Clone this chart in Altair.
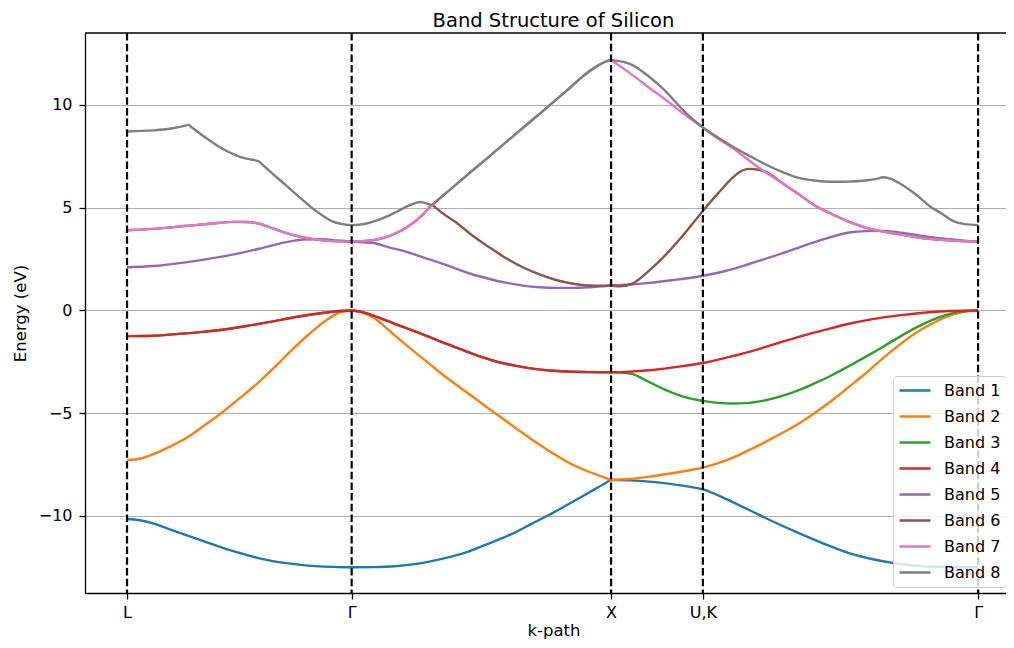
import altair as alt
import pandas as pd

# ---- high-symmetry points ----
KPTS = [0.0, 0.866, 1.866, 2.220, 3.281]
KLABELS = ["L", "Γ", "X", "U,K", "Γ"]
TITLE = "Band Structure of Silicon"

BANDS = ["Band 1", "Band 2", "Band 3", "Band 4", "Band 5", "Band 6", "Band 7", "Band 8"]
COLORS = ["#1f77b4", "#ff7f0e", "#2ca02c", "#d62728", "#9467bd", "#8c564b", "#e377c2", "#7f7f7f"]

# ---- band energies (eV) ----
K1 = [0, 0.05, 0.1, 0.17, 0.281, 0.4, 0.538, 0.67, 0.795, 0.866, 0.95, 1.032, 1.1, 1.165, 1.23, 1.298,
      1.36, 1.43, 1.5, 1.563, 1.63, 1.696, 1.78, 1.85, 1.866, 1.88, 1.94, 2.013, 2.1, 2.16, 2.22, 2.31, 2.398,
      2.49, 2.59, 2.69, 2.783, 2.88, 2.975, 3.07, 3.167, 3.281]
E1 = [-10.15, -10.21, -10.36, -10.68, -11.17, -11.68, -12.14, -12.38, -12.48, -12.50, -12.49, -12.45, -12.36,
      -12.22, -12.04, -11.81, -11.52, -11.17, -10.78, -10.36, -9.93, -9.47, -8.87, -8.36, -8.25, -8.25, -8.27,
      -8.33, -8.45, -8.56, -8.71, -9.18, -9.71, -10.27, -10.84, -11.37, -11.81, -12.12, -12.33, -12.45, -12.49,
      -12.50]

K2 = [0, 0.03, 0.06, 0.104, 0.17, 0.236, 0.3, 0.369, 0.435, 0.502, 0.57, 0.634, 0.7, 0.767, 0.82, 0.866, 0.9,
      0.93, 0.966, 1.0, 1.032, 1.1, 1.165, 1.23, 1.298, 1.36, 1.43, 1.5, 1.563, 1.63, 1.696, 1.78, 1.85, 1.866,
      1.88, 1.94, 2.013, 2.1, 2.16, 2.22, 2.31, 2.398, 2.49, 2.59, 2.65, 2.719, 2.78, 2.847, 2.91, 2.975, 3.04,
      3.103, 3.155, 3.205, 3.25, 3.281]
E2 = [-7.28, -7.255, -7.18, -6.98, -6.60, -6.15, -5.58, -4.94, -4.26, -3.56, -2.75, -1.94, -1.17, -0.49, -0.10,
      0.0, -0.08, -0.22, -0.49, -0.86, -1.21, -1.93, -2.59, -3.25, -3.88, -4.46, -5.10, -5.74, -6.31, -6.86,
      -7.36, -7.85, -8.17, -8.25, -8.24, -8.20, -8.09, -7.92, -7.80, -7.65, -7.30, -6.80, -6.20, -5.50, -5.00,
      -4.37, -3.75, -3.07, -2.37, -1.70, -1.10, -0.65, -0.33, -0.13, -0.03, 0.0]

K3 = [0, 0.1, 0.2, 0.3, 0.369, 0.45, 0.568, 0.65, 0.767, 0.82, 0.866, 0.9, 0.95, 1.032, 1.1, 1.165, 1.23,
      1.298, 1.36, 1.43, 1.5, 1.563, 1.63, 1.696, 1.78, 1.866, 1.9, 1.949, 2.0, 2.078, 2.15, 2.22, 2.28, 2.334,
      2.4, 2.462, 2.53, 2.59, 2.65, 2.719, 2.78, 2.847, 2.91, 2.975, 3.04, 3.103, 3.155, 3.205, 3.25, 3.281]
E3 = [-1.25, -1.23, -1.14, -1.03, -0.94, -0.78, -0.52, -0.32, -0.10, -0.03, 0.0, -0.06, -0.25, -0.65, -0.97,
      -1.29, -1.62, -1.94, -2.24, -2.51, -2.70, -2.83, -2.92, -2.97, -3.00, -3.01, -3.02, -3.10, -3.40, -3.88,
      -4.22, -4.40, -4.50, -4.53, -4.50, -4.37, -4.15, -3.88, -3.55, -3.14, -2.73, -2.26, -1.80, -1.31, -0.85,
      -0.47, -0.23, -0.08, -0.02, 0.0]

K4 = [0, 0.1, 0.2, 0.3, 0.369, 0.45, 0.568, 0.65, 0.767, 0.82, 0.866, 0.9, 0.95, 1.032, 1.1, 1.165, 1.23,
      1.298, 1.36, 1.43, 1.5, 1.563, 1.63, 1.696, 1.78, 1.866, 1.94, 2.013, 2.1, 2.22, 2.31, 2.398, 2.49, 2.59,
      2.69, 2.783, 2.88, 2.975, 3.07, 3.167, 3.281]
E4 = [-1.25, -1.23, -1.14, -1.03, -0.94, -0.78, -0.52, -0.32, -0.10, -0.03, 0.0, -0.06, -0.25, -0.65, -0.97,
      -1.29, -1.62, -1.94, -2.24, -2.51, -2.70, -2.83, -2.92, -2.97, -3.00, -3.01, -2.98, -2.91, -2.78, -2.56,
      -2.30, -2.02, -1.66, -1.29, -0.95, -0.65, -0.41, -0.24, -0.11, -0.03, 0.0]

K5 = [0, 0.1, 0.225, 0.32, 0.417, 0.51, 0.609, 0.68, 0.75, 0.81, 0.866, 0.949, 1.013, 1.078, 1.142, 1.21,
      1.27, 1.33, 1.398, 1.46, 1.526, 1.59, 1.654, 1.72, 1.783, 1.83, 1.866, 1.94, 2.013, 2.1, 2.22, 2.31, 2.398,
      2.49, 2.59, 2.69, 2.783, 2.85, 2.911, 2.975, 3.039, 3.1, 3.167, 3.23, 3.281]
E5 = [2.10, 2.16, 2.34, 2.52, 2.74, 3.00, 3.31, 3.45, 3.47, 3.40, 3.35, 3.28, 3.06, 2.85, 2.58, 2.30, 2.02,
      1.76, 1.53, 1.35, 1.21, 1.13, 1.10, 1.10, 1.13, 1.17, 1.21, 1.26, 1.34, 1.47, 1.69, 1.93, 2.26, 2.63, 3.06,
      3.48, 3.79, 3.86, 3.87, 3.80, 3.68, 3.57, 3.47, 3.39, 3.35]

K6 = [0, 0.1, 0.225, 0.32, 0.417, 0.46, 0.507, 0.56, 0.609, 0.67, 0.738, 0.8, 0.866, 0.949, 1.013, 1.078,
      1.142, 1.16, 1.175, 1.19, 1.22, 1.27, 1.33, 1.398, 1.46, 1.526, 1.59, 1.654, 1.72, 1.783, 1.83, 1.866,
      1.898, 1.95, 2.013, 2.08, 2.142, 2.22, 2.28, 2.334, 2.36, 2.398, 2.43, 2.47, 2.52, 2.59, 2.65, 2.719, 2.78,
      2.847, 2.91, 2.975, 3.04, 3.103, 3.2, 3.281]
E6 = [3.90, 3.97, 4.11, 4.22, 4.31, 4.30, 4.23, 4.00, 3.79, 3.58, 3.44, 3.37, 3.35, 3.42, 3.63, 4.03, 4.68,
      4.93, 5.13, 4.99, 4.70, 4.27, 3.66, 3.06, 2.55, 2.10, 1.75, 1.48, 1.30, 1.21, 1.20, 1.21, 1.17, 1.32, 1.94,
      2.75, 3.63, 4.84, 5.72, 6.45, 6.72, 6.89, 6.86, 6.70, 6.25, 5.65, 5.12, 4.68, 4.33, 4.03, 3.85, 3.71, 3.57,
      3.47, 3.39, 3.35]

K7 = [0, 0.1, 0.225, 0.32, 0.417, 0.46, 0.507, 0.56, 0.609, 0.67, 0.738, 0.8, 0.866, 0.949, 1.013, 1.078,
      1.142, 1.16, 1.175, 1.19, 1.25, 1.32, 1.387, 1.45, 1.51, 1.57, 1.631, 1.70, 1.772, 1.82, 1.85, 1.866, 1.88,
      1.949, 2.013, 2.078, 2.142, 2.22, 2.28, 2.334, 2.39, 2.436, 2.52, 2.59, 2.65, 2.719, 2.78, 2.847, 2.91,
      2.975, 3.04, 3.103, 3.2, 3.281]
E7 = [3.90, 3.97, 4.11, 4.22, 4.31, 4.30, 4.23, 4.00, 3.79, 3.58, 3.44, 3.37, 3.35, 3.42, 3.63, 4.03, 4.68,
      4.93, 5.13, 5.29, 5.93, 6.68, 7.39, 8.07, 8.71, 9.35, 10.0, 10.75, 11.54, 11.95, 12.13, 12.18, 12.06,
      11.45, 10.84, 10.24, 9.60, 8.90, 8.35, 7.90, 7.38, 6.94, 6.25, 5.65, 5.12, 4.68, 4.33, 4.03, 3.85, 3.71,
      3.57, 3.47, 3.39, 3.35]

K8 = [0, 0.1, 0.17, 0.225, 0.237, 0.25, 0.29, 0.353, 0.39, 0.43, 0.47, 0.495, 0.507, 0.52, 0.55, 0.609, 0.66,
      0.712, 0.75, 0.789, 0.83, 0.866, 0.92, 0.98, 1.04, 1.09, 1.13, 1.15, 1.175, 1.19, 1.25, 1.32, 1.387, 1.45,
      1.51, 1.57, 1.631, 1.70, 1.772, 1.82, 1.85, 1.866, 1.898, 1.949, 2.013, 2.078, 2.142, 2.22, 2.28, 2.334,
      2.40, 2.462, 2.53, 2.59, 2.65, 2.719, 2.78, 2.847, 2.89, 2.917, 2.945, 2.975, 3.04, 3.103, 3.14, 3.185,
      3.23, 3.281]
E8 = [8.71, 8.76, 8.85, 8.99, 9.03, 8.90, 8.52, 7.98, 7.72, 7.50, 7.36, 7.30, 7.26, 7.12, 6.78, 6.13, 5.56,
      5.00, 4.65, 4.35, 4.20, 4.15, 4.22, 4.45, 4.80, 5.12, 5.28, 5.22, 5.13, 5.29, 5.93, 6.68, 7.39, 8.07, 8.71,
      9.35, 10.0, 10.75, 11.54, 11.95, 12.13, 12.18, 12.13, 11.94, 11.37, 10.65, 9.76, 8.90, 8.40, 7.98, 7.52,
      7.10, 6.72, 6.45, 6.32, 6.26, 6.27, 6.32, 6.40, 6.48, 6.40, 6.21, 5.65, 5.00, 4.72, 4.35, 4.20, 4.15]

KS = [K1, K2, K3, K4, K5, K6, K7, K8]
ES = [E1, E2, E3, E4, E5, E6, E7, E8]

rows = []
for name, ks, es in zip(BANDS, KS, ES):
    for k, e in zip(ks, es):
        rows.append({"band": name, "k": k, "E": e})
df = pd.DataFrame(rows)
kdf = pd.DataFrame({"k": KPTS, "label": KLABELS})

W, H = 921, 560
XDOM = [-0.162, 3.3886]
YDOM = [-13.75, 13.5]

# tick label expression built from the k-point lists
expr = "'" + KLABELS[-1] + "'"
for i in range(len(KPTS) - 2, -1, -1):
    mid = (KPTS[i] + KPTS[i + 1]) / 2
    expr = f"datum.value < {mid:.4f} ? '{KLABELS[i]}' : ({expr})"

xscale = alt.Scale(domain=XDOM, nice=False, zero=False)
yscale = alt.Scale(domain=YDOM, nice=False, zero=False)

lines = alt.Chart(df).mark_line(strokeWidth=2.4, interpolate="monotone").encode(
    x=alt.X("k:Q", scale=xscale, axis=alt.Axis(
        values=KPTS, labelExpr=expr, title="k-path", grid=False, labelAngle=0,
        labelOverlap=False, labelFlush=False, labelPadding=5,
        titleX=468.5, titleY=42.5, titleBaseline="alphabetic", titleAlign="center")),
    y=alt.Y("E:Q", scale=yscale, axis=alt.Axis(
        values=[-10, -5, 0, 5, 10], title="Energy (eV)", grid=True, gridColor="#b0b0b0",
        gridWidth=1.2, labelPadding=7, titleX=-65, titleY=280, titleAngle=270,
        titleBaseline="middle", titleAlign="center")),
    color=alt.Color("band:N", scale=alt.Scale(domain=BANDS, range=COLORS), legend=alt.Legend(
        title=None, orient="none", legendX=808, legendY=343, padding=5,
        fillColor="rgba(255,255,255,0.8)", strokeColor="#cccccc", cornerRadius=4,
        symbolType="stroke", symbolSize=961, symbolStrokeWidth=2.4,
        labelFontSize=16, labelOffset=12, rowPadding=7, clipHeight=19, labelColor="black")),
)

vlines = alt.Chart(kdf).mark_rule(color="black", strokeWidth=2.2, strokeDash=[7.5, 3.2]).encode(
    x=alt.X("k:Q", scale=xscale)
)

top = alt.Chart(pd.DataFrame({"a": [0]})).mark_rule(color="black", strokeWidth=1.3).encode(
    x=alt.value(0), x2=alt.value(W), y=alt.value(0)
)

title = alt.Chart(pd.DataFrame({"t": [TITLE]})).mark_text(
    fontSize=19.5, align="center", baseline="alphabetic", color="black", font="DejaVu Sans"
).encode(text="t:N", x=alt.value(468.5), y=alt.value(-6))

chart = alt.layer(lines, vlines, top, title).properties(
    width=W, height=H,
    autosize=alt.AutoSizeParams(type="none"),
    padding={"left": 77, "top": 25, "right": 0, "bottom": 47},
).configure(font="DejaVu Sans", background="white").configure_view(stroke=None).configure_axis(
    domainColor="black", domainWidth=1.3, tickColor="black", tickWidth=1.3, tickSize=6,
    labelFontSize=16, labelColor="black", titleFontSize=16.5, titleFontWeight="normal",
    titleColor="black", labelFont="DejaVu Sans", titleFont="DejaVu Sans"
).configure_legend(labelFont="DejaVu Sans")

chart.save("out.html", embed_options={"renderer": "svg", "actions": False})
